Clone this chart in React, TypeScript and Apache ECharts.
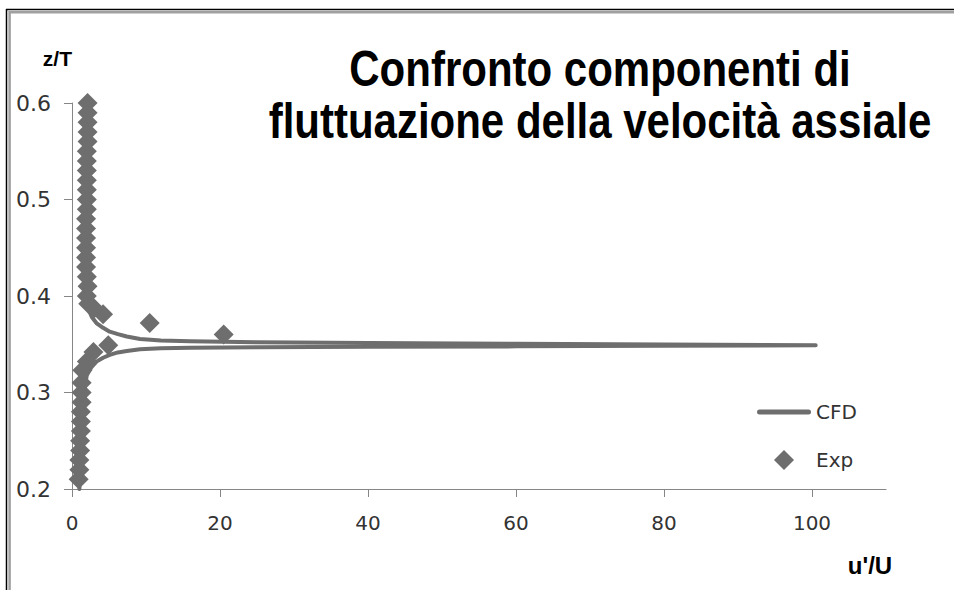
import React, { useEffect, useRef } from "react";
import * as echarts from "echarts";

const titleLines = ["Confronto componenti di", "fluttuazione della velocità assiale"];
const xAxisName = "u'/U";
const yAxisName = "z/T";
const seriesNames = ["CFD", "Exp"];
const xTickValues = [0, 20, 40, 60, 80, 100];
const yTickValues = [0.2, 0.3, 0.4, 0.5, 0.6];

// CFD profile (u'/U, z/T)
const cfdU = [
  1.0, 1.3, 1.6, 2.0, 2.6, 3.3, 4.2, 5.1, 6.2, 7.4, 9.2, 12, 16, 25, 40, 60, 80, 100.5,
  80, 60, 40, 25, 16, 12, 9.2, 7.4, 6.2, 5.1, 4.2, 3.3, 2.7, 2.4, 2.1, 2.0, 2.0, 2.0,
];
const cfdZ = [
  0.2, 0.25, 0.3, 0.318, 0.326, 0.332, 0.336, 0.339, 0.3415, 0.343, 0.3448, 0.3458, 0.3465, 0.347, 0.3474, 0.3478, 0.3484, 0.349,
  0.3497, 0.3504, 0.3512, 0.352, 0.353, 0.354, 0.3555, 0.358, 0.3605, 0.363, 0.367, 0.372, 0.378, 0.383, 0.392, 0.4, 0.5, 0.6,
];

// Experimental points (u'/U, z/T)
const expU = [
  0.9, 1.0, 1.0, 1.1, 1.1, 1.2, 1.2, 1.2, 1.3, 1.3, 1.3, 1.4, 2.0, 2.9,
  4.9, 20.5, 10.5,
  4.2, 3.0, 2.2,
  2.0, 2.1, 2.0, 1.9, 1.9, 1.9, 1.9, 1.9, 1.9, 2.0, 2.0, 2.0, 2.0, 2.0, 2.0, 2.0, 2.1, 2.1, 2.1, 2.1, 2.1,
];
const expZ = [
  0.21, 0.22, 0.23, 0.24, 0.25, 0.26, 0.27, 0.28, 0.29, 0.3, 0.31, 0.323, 0.332, 0.342,
  0.349, 0.36, 0.372,
  0.381, 0.387, 0.392,
  0.4, 0.41, 0.42, 0.43, 0.44, 0.45, 0.46, 0.47, 0.48, 0.49, 0.5, 0.51, 0.52, 0.53, 0.54, 0.55, 0.56, 0.57, 0.58, 0.59, 0.6,
];

const GRAY = "#6e6e6e";
const AXIS = "#868686";
const TEXT = "#333333";

export default function App() {
  const ref = useRef<HTMLDivElement>(null);

  useEffect(() => {
    if (!ref.current) return;
    const chart = echarts.init(ref.current, null, { renderer: "svg" });
    const cfdData = cfdU.map((u, i) => [u, cfdZ[i]]);
    const expData = expU.map((u, i) => [u, expZ[i]]);

    const titleFont = {
      fontFamily: "Liberation Sans",
      fontWeight: "bold",
      fontSize: 42,
      fill: "#000000",
      align: "center",
      verticalAlign: "middle",
    };

    chart.setOption({
      animation: false,
      backgroundColor: "#ffffff",
      grid: { left: 72, right: 68, top: 103, bottom: 101, containLabel: false },
      legend: {
        data: [
          { name: seriesNames[0], icon: "path://M2.5,0 L51.5,0 A2.5,2.5 0 0 1 51.5,5 L2.5,5 A2.5,2.5 0 0 1 2.5,0 Z" },
          { name: seriesNames[1], icon: "path://M0,-1 L1,0 L0,1 L-1,0 Z" },
        ],
        orient: "vertical",
        left: 757,
        top: 402,
        itemWidth: 54,
        itemHeight: 20,
        itemGap: 28,
        padding: 0,
        symbolKeepAspect: true,
        textStyle: { fontFamily: "DejaVu Sans", fontSize: 20, color: TEXT },
      },
      xAxis: {
        type: "value",
        min: 0,
        max: 110,
        interval: 20,
        name: xAxisName,
        nameLocation: "end",
        nameGap: -16,
        nameMoveOverlap: false,
        nameTextStyle: {
          fontFamily: "Liberation Sans",
          fontWeight: "bold",
          fontSize: 24,
          color: "#000000",
          align: "center",
          verticalAlign: "top",
          padding: [64, 0, 0, 0],
        },
        axisLine: { show: true, lineStyle: { color: AXIS, width: 1 } },
        axisTick: { show: true, length: 8, lineStyle: { color: AXIS }, customValues: xTickValues },
        axisLabel: {
          customValues: xTickValues,
          margin: 24,
          fontFamily: "DejaVu Sans",
          fontSize: 20,
          color: TEXT,
        },
        splitLine: { show: false },
      },
      yAxis: {
        type: "value",
        min: 0.2,
        max: 0.6,
        interval: 0.1,
        name: yAxisName,
        nameLocation: "end",
        nameGap: 0,
        nameMoveOverlap: false,
        nameTextStyle: {
          fontFamily: "Liberation Sans",
          fontWeight: "bold",
          fontSize: 21,
          color: "#000000",
          align: "right",
          verticalAlign: "bottom",
          padding: [0, 0, 34, 0],
        },
        axisLine: { show: true, lineStyle: { color: AXIS, width: 1 } },
        axisTick: { show: true, length: 8, lineStyle: { color: AXIS }, customValues: yTickValues },
        axisLabel: {
          customValues: yTickValues,
          margin: 21,
          fontFamily: "DejaVu Sans",
          fontSize: 22,
          color: TEXT,
          formatter: (v: number) => v.toFixed(1),
        },
        splitLine: { show: false },
      },
      series: [
        {
          name: seriesNames[0],
          type: "line",
          data: cfdData,
          symbol: "none",
          smooth: false,
          lineStyle: { color: GRAY, width: 4, cap: "round", join: "round" },
          itemStyle: { color: GRAY },
          z: 2,
        },
        {
          name: seriesNames[1],
          type: "scatter",
          data: expData,
          symbol: "diamond",
          symbolSize: 20,
          itemStyle: { color: GRAY, opacity: 1 },
          z: 3,
        },
      ],
      graphic: [
        {
          type: "text",
          x: 600,
          y: 69,
          scaleY: 1.2,
          style: { ...titleFont, text: titleLines[0], x: 0, y: 0 },
        },
        {
          type: "text",
          x: 600,
          y: 121,
          scaleY: 1.2,
          style: { ...titleFont, text: titleLines[1], x: 0, y: 0 },
        },
        { type: "line", shape: { x1: 6, y1: 9.5, x2: 954, y2: 9.5 }, style: { stroke: "#000000", lineWidth: 1.5 } },
        { type: "line", shape: { x1: 9, y1: 12.2, x2: 954, y2: 12.2 }, style: { stroke: "#a0a0a0", lineWidth: 2.5 } },
        { type: "line", shape: { x1: 6.5, y1: 9, x2: 6.5, y2: 590 }, style: { stroke: "#000000", lineWidth: 1.5 } },
        { type: "line", shape: { x1: 9.6, y1: 11, x2: 9.6, y2: 590 }, style: { stroke: "#a0a0a0", lineWidth: 2.5 } },
      ],
    });

    return () => {
      chart.dispose();
    };
  }, []);

  return (
    <div
      ref={ref}
      style={{ position: "absolute", left: 0, top: 0, width: 954, height: 590, background: "#ffffff" }}
    />
  );
}
